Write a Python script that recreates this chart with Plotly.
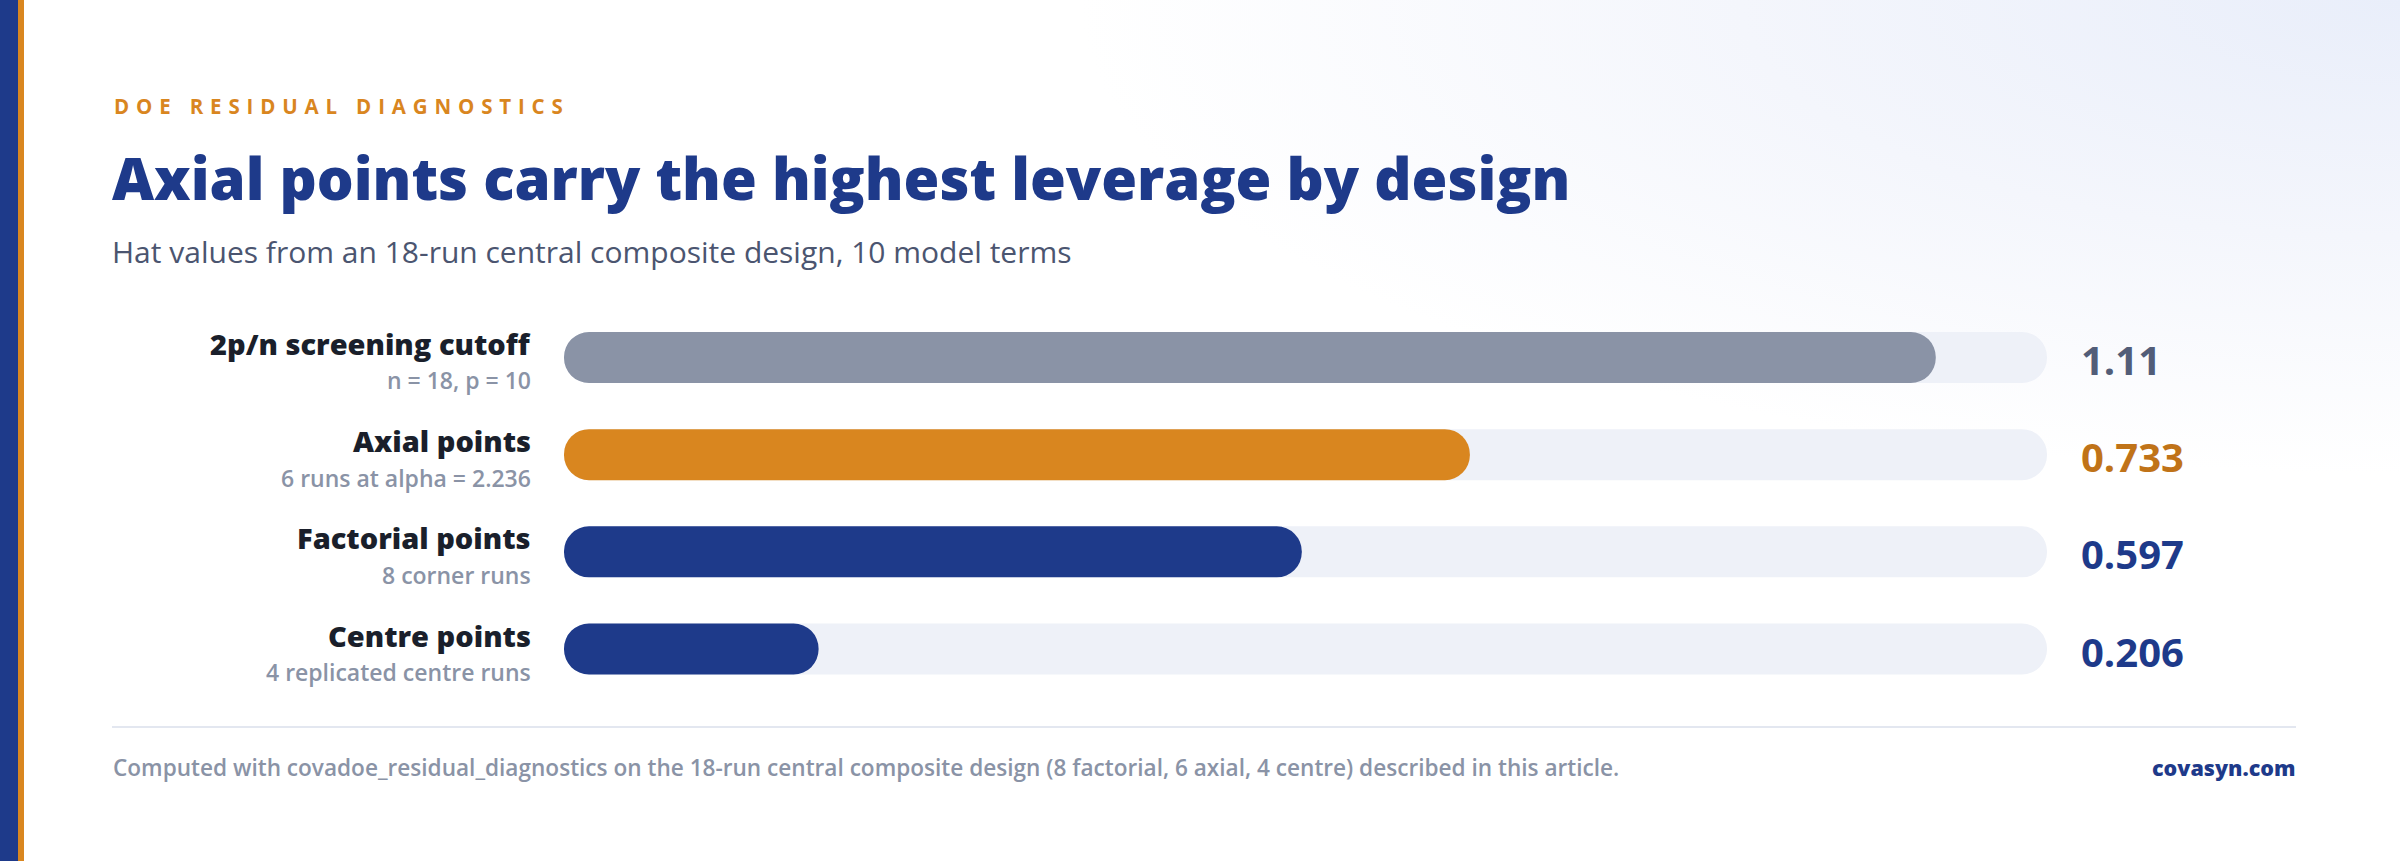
import base64
import plotly.graph_objects as go

# ---------------- data ----------------
categories = ["2p/n screening cutoff", "Axial points", "Factorial points", "Centre points"]
sublabels = ["n = 18, p = 10", "6 runs at alpha = 2.236", "8 corner runs", "4 replicated centre runs"]
hat_values = [1.11, 0.733, 0.597, 0.206]
value_labels = ["1.11", "0.733", "0.597", "0.206"]
axis_max = 1.2

eyebrow = "DOE RESIDUAL DIAGNOSTICS"
title = "Axial points carry the highest leverage by design"
subtitle = "Hat values from an 18-run central composite design, 10 model terms"
footer = ("Computed with covadoe_residual_diagnostics on the 18-run central composite design "
          "(8 factorial, 6 axial, 4 centre) described in this article.")
brand = "covasyn.com"

# ---------------- style ----------------
W, H = 2400, 861
NAVY = "#1e3a8a"
ORANGE = "#d9861f"
GREY = "#8a93a6"
TRACK = "#eef1f8"
bar_colors = [GREY, ORANGE, NAVY, NAVY]
value_colors = ["#525d78", "#c07318", NAVY, NAVY]
FONT = "Open Sans"
BAR_W = 0.525


def px(x):
    return x / W


def py(y):
    return 1 - y / H


def spaced(s):
    return "\u2006\u2006".join(list(s))


svg = (
    f'<svg xmlns="http://www.w3.org/2000/svg" width="{W}" height="{H}" viewBox="0 0 {W} {H}" preserveAspectRatio="none">'
    '<defs><radialGradient id="g" cx="1" cy="0" r="0.55" gradientUnits="objectBoundingBox">'
    '<stop offset="0" stop-color="#e9eefa"/><stop offset="0.5" stop-color="#f4f6fc"/>'
    '<stop offset="1" stop-color="#ffffff"/></radialGradient></defs>'
    f'<rect width="{W}" height="{H}" fill="url(#g)"/></svg>'
)
bg_src = "data:image/svg+xml;base64," + base64.b64encode(svg.encode()).decode()

fig = go.Figure()
# background tracks (full scale), pill-shaped
fig.add_trace(go.Bar(
    y=categories, x=[axis_max] * len(categories), base=[0] * len(categories),
    orientation="h", xaxis="x", yaxis="y",
    marker=dict(color=TRACK, cornerradius="50%", line=dict(width=0)),
    width=BAR_W, hoverinfo="skip", showlegend=False,
))
# hat-value bars, pill-shaped
fig.add_trace(go.Bar(
    y=categories, x=hat_values, base=[0] * len(categories),
    orientation="h", xaxis="x2", yaxis="y",
    marker=dict(color=bar_colors, cornerradius="50%", line=dict(width=0)),
    width=BAR_W, hoverinfo="skip", showlegend=False,
))

annotations = []
annotations.append(dict(x=px(112), y=py(106), xref="paper", yref="paper", xanchor="left", yanchor="middle",
                        text=spaced(eyebrow), showarrow=False,
                        font=dict(family=FONT, size=20.5, color=ORANGE, weight=700)))
annotations.append(dict(x=px(110), y=py(178), xref="paper", yref="paper", xanchor="left", yanchor="middle",
                        text=title, showarrow=False,
                        font=dict(family=FONT, size=58, color=NAVY, weight=800)))
annotations.append(dict(x=px(110), y=py(251), xref="paper", yref="paper", xanchor="left", yanchor="middle",
                        text=subtitle, showarrow=False,
                        font=dict(family=FONT, size=30, color="#4b5570", weight=400)))

for cat, sub, val, col in zip(categories, sublabels, value_labels, value_colors):
    annotations.append(dict(x=px(533), y=cat, xref="paper", yref="y", xanchor="right", yanchor="middle",
                            yshift=14, text=cat, showarrow=False,
                            font=dict(family=FONT, size=29, color="#1a1f2b", weight=800)))
    annotations.append(dict(x=px(533), y=cat, xref="paper", yref="y", xanchor="right", yanchor="middle",
                            yshift=-23, text=sub, showarrow=False,
                            font=dict(family=FONT, size=23, color=GREY, weight=600)))
    annotations.append(dict(x=px(2079), y=cat, xref="paper", yref="y", xanchor="left", yanchor="middle",
                            yshift=-2, text=val, showarrow=False,
                            font=dict(family=FONT, size=40, color=col, weight=700)))

annotations.append(dict(x=px(111), y=py(767), xref="paper", yref="paper", xanchor="left", yanchor="middle",
                        text=footer, showarrow=False,
                        font=dict(family=FONT, size=22.6, color=GREY, weight=600)))
annotations.append(dict(x=px(2297), y=py(767), xref="paper", yref="paper", xanchor="right", yanchor="middle",
                        text=brand, showarrow=False,
                        font=dict(family=FONT, size=21.5, color=NAVY, weight=800)))

shapes = [
    dict(type="rect", xref="paper", yref="paper", x0=0, x1=px(18), y0=0, y1=1,
         fillcolor=NAVY, line=dict(width=0), layer="above"),
    dict(type="rect", xref="paper", yref="paper", x0=px(18), x1=px(24), y0=0, y1=1,
         fillcolor=ORANGE, line=dict(width=0), layer="above"),
    dict(type="line", xref="paper", yref="paper", x0=px(112), x1=px(2296), y0=py(727), y1=py(727),
         line=dict(color="#e3e7f0", width=2)),
]

pitch = 97.2
top_px = 357.5 - pitch / 2
bot_px = 649 + pitch / 2

xdom = [px(564), px(2047)]
xcommon = dict(domain=xdom, range=[0, axis_max], visible=False, fixedrange=True)

fig.update_layout(
    width=W, height=H,
    margin=dict(l=0, r=0, t=0, b=0, pad=0),
    paper_bgcolor="#ffffff", plot_bgcolor="rgba(0,0,0,0)",
    barmode="overlay",
    xaxis=dict(**xcommon),
    xaxis2=dict(**xcommon, overlaying="x"),
    yaxis=dict(domain=[py(bot_px), py(top_px)], categoryorder="array", categoryarray=categories,
               range=[len(categories) - 0.5, -0.5], visible=False, fixedrange=True),
    annotations=annotations, shapes=shapes,
    images=[dict(source=bg_src, xref="paper", yref="paper", x=0, y=1, sizex=1, sizey=1,
                 sizing="stretch", xanchor="left", yanchor="top", layer="below")],
    showlegend=False,
)

fig.write_html("out.html", config=dict(displayModeBar=False),
               post_script="document.body.style.margin='0';")
